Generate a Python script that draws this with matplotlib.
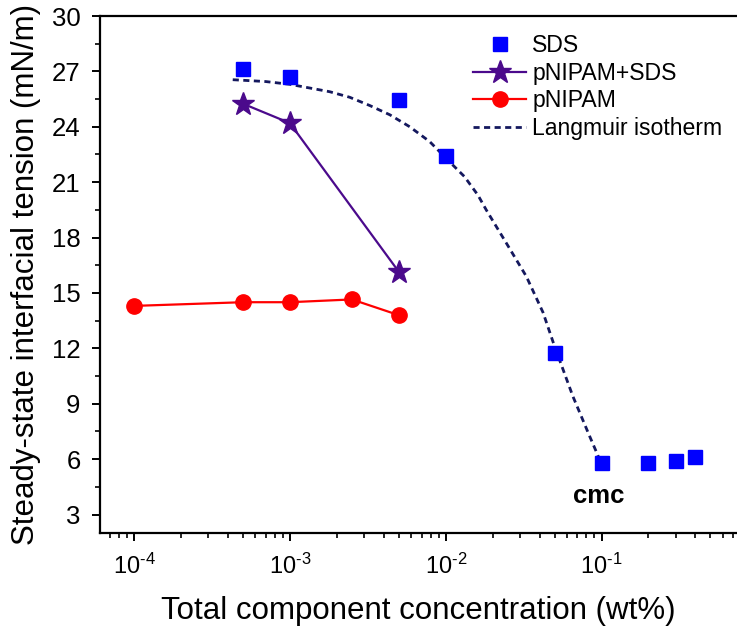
import numpy as np
import matplotlib
matplotlib.use("Agg")
import matplotlib.pyplot as plt
from matplotlib import ticker

plt.rcParams["font.family"] = ["Liberation Sans", "DejaVu Sans"]
plt.rcParams["mathtext.fontset"] = "custom"
plt.rcParams["mathtext.rm"] = "Liberation Sans"
plt.rcParams["mathtext.it"] = "Liberation Sans"
plt.rcParams["mathtext.default"] = "regular"
plt.rcParams["axes.unicode_minus"] = False

# ---------------------------------------------------------------
# Data
# ---------------------------------------------------------------
sds_conc = [5e-4, 1e-3, 5e-3, 1e-2, 5e-2, 1e-1, 0.2, 0.3, 0.4]
sds_ift = [27.15, 26.7, 25.45, 22.4, 11.75, 5.8, 5.8, 5.9, 6.1]

mix_conc = [5e-4, 1e-3, 5e-3]
mix_ift = [25.25, 24.2, 16.15]

pnipam_conc = [1e-4, 5e-4, 1e-3, 2.5e-3, 5e-3]
pnipam_ift = [14.3, 14.5, 14.5, 14.65, 13.8]

# Langmuir isotherm fit curve
fit_conc = [4.3e-4, 7e-4, 1e-3, 1.8e-3, 2.42e-3, 3.26e-3, 4.38e-3,
            5.88e-3, 7.89e-3, 1.06e-2, 1.32e-2, 1.61e-2, 1.82e-2,
            2.45e-2, 3.29e-2, 4.21e-2, 5.0e-2, 6.55e-2, 8.38e-2,
            9.7e-2, 1e-1]
fit_ift = [26.55, 26.45, 26.3, 25.9, 25.6, 25.15, 24.65,
           24.0, 23.2, 22.1, 21.3, 20.3, 19.5,
           17.7, 15.9, 13.95, 12.1, 9.4, 7.25,
           6.0, 5.85]


def pow10_label(x, pos):
    # hyphen-style minus in the exponent, like the original plot
    e = int(round(np.log10(x)))
    sign = r"\text{-}" if e < 0 else ""
    return r"$10^{%s%d}$" % (sign, abs(e))


# ---------------------------------------------------------------
# Figure
# ---------------------------------------------------------------
fig = plt.figure(figsize=(7.37, 6.35), dpi=100)
ax = fig.add_axes([0.1357, 0.1606, 0.8643, 0.8142])

ax.plot(fit_conc, fit_ift, ls=(0, (2.2, 1.6)), color="#14185e", lw=2.0,
        label="Langmuir isotherm", zorder=2)
ax.plot(sds_conc, sds_ift, ls="none", marker="s", ms=10, color="#0000ff",
        label="SDS", zorder=3)
ax.plot(mix_conc, mix_ift, "-", marker="*", ms=17, lw=1.6, color="#4b0a8c",
        label="pNIPAM+SDS", zorder=3)
ax.plot(pnipam_conc, pnipam_ift, "-", marker="o", ms=11, lw=1.6,
        color="#ff0000", label="pNIPAM", zorder=3)

ax.text(0.096, 4.0, "cmc", fontsize=18.5, fontweight="bold", ha="center",
        va="center")

ax.set_xscale("log")
ax.set_xlim(6.05e-5, 0.74)
ax.set_ylim(2, 30)
ax.set_yticks(np.arange(3, 31, 3))
ax.yaxis.set_minor_locator(ticker.MultipleLocator(1.5))
ax.xaxis.set_major_locator(ticker.LogLocator(base=10, numticks=10))
ax.xaxis.set_minor_locator(ticker.LogLocator(base=10, subs=np.arange(2, 10),
                                             numticks=20))
ax.xaxis.set_major_formatter(ticker.FuncFormatter(pow10_label))
ax.xaxis.set_minor_formatter(ticker.NullFormatter())

ax.spines["right"].set_visible(False)
for s in ["left", "bottom", "top"]:
    ax.spines[s].set_linewidth(1.6)
ax.tick_params(which="major", direction="out", length=6, width=1.4)
ax.tick_params(which="minor", direction="out", length=3.5, width=1.2)
ax.tick_params(axis="y", which="major", labelsize=18.5, pad=8)
ax.tick_params(axis="x", which="major", labelsize=17, pad=9)

ax.set_xlabel("Total component concentration (wt%)", fontsize=22.5,
              labelpad=12)
ax.set_ylabel("Steady-state interfacial tension (mN/m)", fontsize=22.5,
              labelpad=8)

h, l = ax.get_legend_handles_labels()
order = [1, 2, 3, 0]
ax.legend([h[i] for i in order], [l[i] for i in order], loc="upper left",
          bbox_to_anchor=(0.579, 0.974), frameon=False, fontsize=16.6,
          handlelength=2.3, handletextpad=0.25, labelspacing=0.2,
          borderpad=0.2, borderaxespad=0)

fig.savefig("out.png", dpi=100)
